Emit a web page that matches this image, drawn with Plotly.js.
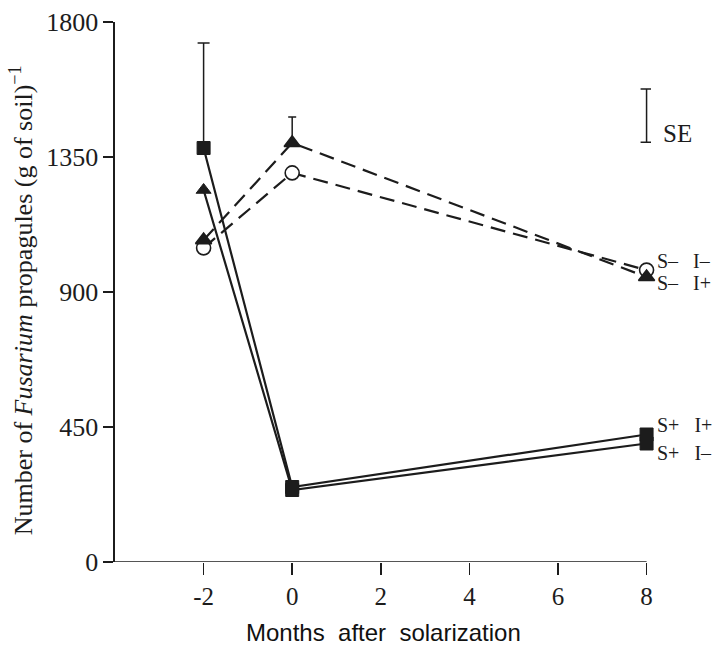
<!DOCTYPE html>
<html>
<head>
<meta charset="utf-8">
<script src="https://cdn.plot.ly/plotly-3.0.1.min.js"></script>
<style>
  html, body { margin: 0; padding: 0; background: #ffffff; }
  #chart { width: 727px; height: 645px; }
</style>
</head>
<body>
<div id="chart"></div>
<script>
// Sampling times (months after solarization)
const months = [-2, 0, 8];

// Fusarium propagules per g of soil for each treatment
const sMinusIMinus = [1047, 1297, 973];   // S- I-  (open circles, dashed)
const sMinusIPlus  = [1073, 1397, 950];   // S- I+  (filled triangles, dashed)
const sPlusIPlus   = [1380, 250, 425];    // S+ I+  (filled squares, solid)
const sPlusIMinus  = [1240, 240, 395];    // S+ I-  (solid)

// Upward standard errors (NaN = no bar drawn)
const sePlusIPlus  = [350, NaN, NaN];
const seMinusIPlus = [NaN, 86, NaN];

// Pooled standard error shown as a reference bar
const seRefX = [8];
const seRefY = [1488];
const seRefHalf = [89];

// Axis ticks and extents
const xStart = -4, xEnd = 8;
const xTickVals = [-2, 0, 2, 4, 6, 8];
const xTickText = ['-2', '0', '2', '4', '6', '8'];
const yTickVals = [0, 450, 900, 1350, 1800];

// Right-hand series labels
const labelText = ['S\u2013&nbsp;&nbsp; I\u2013', 'S\u2013&nbsp;&nbsp; I+',
                   'S+&nbsp;&nbsp; I+', 'S+&nbsp;&nbsp; I\u2013', 'SE'];
const labelY    = [1002, 930, 457, 363, 1430];

// Axis titles
const xTitle = 'Months&nbsp; after&nbsp; solarization';
const yTitle = 'Number of <i>Fusarium</i> propagules (g of soil)<sup>\u22121</sup>';

const ink = '#1c1c1c';
const serif = '"Liberation Serif", "DejaVu Serif", serif';
const sans = '"Liberation Sans", Arial, sans-serif';

function dashed(y, symbol, fill, err) {
  const t = {
    x: months, y: y, type: 'scatter', mode: 'lines+markers',
    line: { color: ink, width: 2.2, dash: '15px,8px' },
    marker: { symbol: symbol, size: 14, color: fill, line: { color: ink, width: 1.6 } },
    cliponaxis: false, hoverinfo: 'skip'
  };
  if (err) {
    t.error_y = { type: 'data', symmetric: false, array: err,
                  arrayminus: err.map(() => NaN), color: ink, thickness: 1.5, width: 4 };
  }
  return t;
}

function solid(y, symbol, err) {
  const t = {
    x: months, y: y, type: 'scatter', mode: 'lines+markers',
    line: { color: ink, width: 2.2 },
    marker: { symbol: symbol, size: 13, color: ink, line: { color: ink, width: 1 } },
    cliponaxis: false, hoverinfo: 'skip'
  };
  if (err) {
    t.error_y = { type: 'data', symmetric: false, array: err,
                  arrayminus: err.map(() => NaN), color: ink, thickness: 1.5, width: 6 };
  }
  return t;
}

const traces = [
  dashed(sMinusIMinus, 'circle', '#ffffff'),
  dashed(sMinusIPlus, 'triangle-up', ink, seMinusIPlus),
  solid(sPlusIMinus, ['triangle-up', 'square', 'square']),
  solid(sPlusIPlus, 'square', sePlusIPlus),
  {
    x: seRefX, y: seRefY, type: 'scatter', mode: 'markers',
    marker: { size: 1, color: 'rgba(0,0,0,0)' },
    error_y: { type: 'data', array: seRefHalf, color: ink, thickness: 1.5, width: 6 },
    cliponaxis: false, hoverinfo: 'skip'
  }
];

const annotations = labelText.map((t, i) => ({
  x: 8, y: labelY[i], xref: 'x', yref: 'y', text: t, showarrow: false,
  xanchor: 'left', yanchor: 'middle', xshift: i === 4 ? 14 : 8,
  font: { family: serif, size: i === 4 ? 25 : 20, color: ink }
}));

annotations.push({
  x: 0.5, y: -0.13, xref: 'paper', yref: 'paper', text: xTitle, showarrow: false,
  xanchor: 'center', yanchor: 'middle',
  font: { family: sans, size: 24, color: '#111' }
});
annotations.push({
  x: -0.175, y: 0.485, xref: 'paper', yref: 'paper', text: yTitle, showarrow: false,
  textangle: -90, xanchor: 'center', yanchor: 'middle',
  font: { family: serif, size: 26, color: ink }
});

// The x range runs a little past the last month so bars and caps at 8 stay whole;
// the visible baseline is drawn from xStart to xEnd.
const xPad = 0.1;
const plotL = 115, plotR8 = 647;
const plotW = (plotR8 - plotL) * (xEnd + xPad - xStart) / (xEnd - xStart);

const layout = {
  width: 727, height: 645,
  margin: { l: plotL, r: 727 - plotL - plotW, t: 22, b: 83 },
  paper_bgcolor: '#ffffff', plot_bgcolor: '#ffffff',
  showlegend: false,
  font: { family: serif, color: ink },
  xaxis: {
    range: [xStart, xEnd + xPad], tickmode: 'array', tickvals: xTickVals, ticktext: xTickText,
    showline: false, showgrid: false, zeroline: false,
    ticks: 'outside', ticklen: 12, tickwidth: 1.5, tickcolor: ink,
    tickfont: { family: serif, size: 25, color: ink }
  },
  yaxis: {
    range: [0, 1800], tickmode: 'array', tickvals: yTickVals,
    showline: true, linecolor: ink, linewidth: 1.6, showgrid: false, zeroline: false,
    ticks: 'outside', ticklen: 10, tickwidth: 1.5, tickcolor: ink,
    tickfont: { family: serif, size: 26, color: ink }
  },
  shapes: [
    { type: 'line', xref: 'x', yref: 'y', x0: xStart, x1: xEnd, y0: 0, y1: 0,
      line: { color: ink, width: 1.6 } }
  ],
  annotations: annotations
};

Plotly.newPlot('chart', traces, layout, { displayModeBar: false, staticPlot: true });
</script>
</body>
</html>
